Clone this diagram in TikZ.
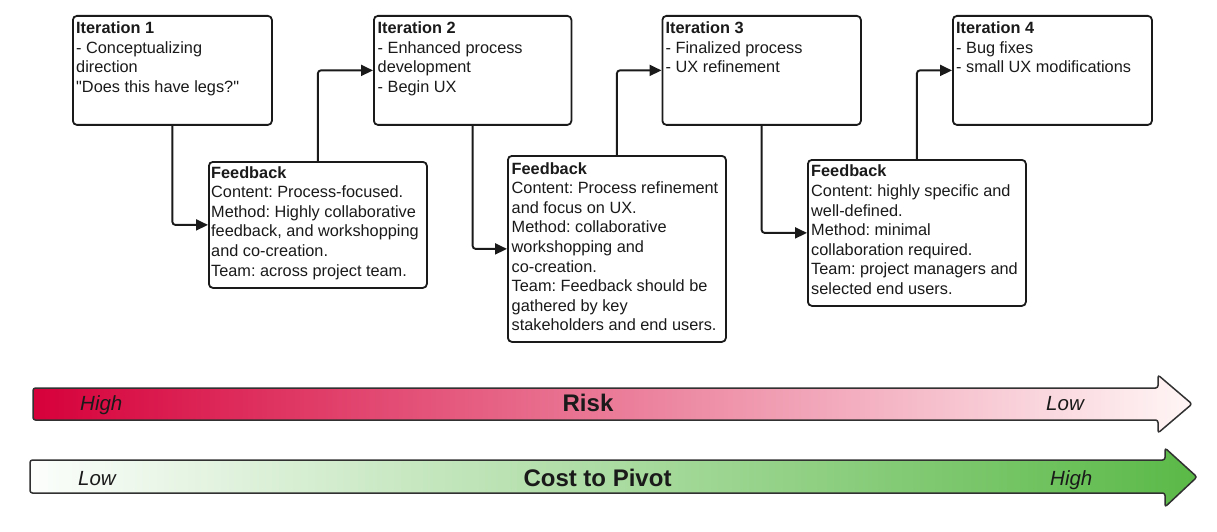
\documentclass[tikz,border=0pt]{standalone}
\usepackage{fontspec}
\setmainfont{Liberation Sans}[Ligatures=TeXOff]
\usetikzlibrary{arrows.meta}
\frenchspacing
\definecolor{ink}{HTML}{1A1A1A}
\definecolor{riskL}{HTML}{D6003A}
\definecolor{riskR}{HTML}{FFF6F6}
\definecolor{costL}{HTML}{FCFEFC}
\definecolor{costR}{HTML}{5AB947}
\tikzset{
  box/.style={draw=ink, line width=1.8pt, rounded corners=4pt, fill=white, anchor=north west, inner sep=0pt},
  itbox/.style={box, minimum width=199pt, minimum height=109pt},
  txt/.style={anchor=north west, inner sep=0pt, align=left, text=ink, font=\fontsize{16.3}{19.6}\selectfont},
  conn/.style={draw=ink, line width=1.9pt, rounded corners=3pt, -{Triangle[length=12pt,width=11pt]}},
  bigarrow/.style={draw=ink!90, line width=1.5pt, rounded corners=2.5pt},
  lab/.style={anchor=base west, inner sep=0pt, text=ink, font=\fontsize{20.5}{24}\selectfont\itshape},
  title/.style={anchor=base, inner sep=0pt, text=ink, font=\fontsize{24}{28}\selectfont\bfseries}
}
\begin{document}
\begin{tikzpicture}[x=1pt,y=-1pt]
\useasboundingbox[fill=white] (0,0) rectangle (1217,532);

% iteration boxes
\node[itbox] (it1) at (72,15) {};
\node[box, minimum width=197.5pt, minimum height=109pt] (it2) at (373,15) {};
\node[box, minimum width=198.5pt, minimum height=109pt] (it3) at (661.5,15) {};
\node[box, minimum width=199pt, minimum height=109pt] (it4) at (952,15) {};

% feedback boxes
\node[box, minimum width=218pt, minimum height=126pt] (fb1) at (208,161) {};
\node[box, minimum width=218pt, minimum height=186pt] (fb2) at (507,155) {};
\node[box, minimum width=218pt, minimum height=146pt] (fb3) at (807,159) {};

% texts
\node[txt] (t1) at (76,21.5) {\textbf{Iteration 1}\\- Conceptualizing\\direction\\"Does this have legs?"};
\node[txt] (t2) at (377.5,21.5) {\textbf{Iteration 2}\\- Enhanced process\\development\\- Begin UX};
\node[txt] (t3) at (665.5,21.5) {\textbf{Iteration 3}\\- Finalized process\\- UX refinement};
\node[txt] (t4) at (956,21.5) {\textbf{Iteration 4}\\- Bug fixes\\- small UX modifications};

\node[txt] (f1) at (211,166) {\textbf{Feedback}\\Content: Process-focused.\\Method: Highly collaborative\\feedback, and workshopping\\and co-creation.\\Team: across project team.};
\node[txt] (f2) at (511.5,162) {\textbf{Feedback}\\Content: Process refinement\\and focus on UX.\\Method: collaborative\\workshopping and\\co-creation.\\Team: Feedback should be\\gathered by key\\stakeholders and end users.};
\node[txt] (f3) at (811,164.8) {\textbf{Feedback}\\Content: highly specific and\\well-defined.\\Method: minimal\\collaboration required.\\Team: project managers and\\selected end users.};

% connectors
\draw[conn] (it1.south) |- (fb1.west);
\draw[conn] (fb1.north) |- (it2.west);
\draw[conn] (it2.south) |- (fb2.west);
\draw[conn] (fb2.north) |- (it3.west);
\draw[conn] (it3.south) |- (fb3.west);
\draw[conn] (fb3.north) |- (it4.west);

% risk arrow
\path[bigarrow, left color=riskL, right color=riskR]
  (33,388) -- (1158,388) -- (1158,375) -- (1192,404) -- (1158,433) -- (1158,420) -- (33,420) -- cycle;
\node[lab] (rh) at (80,410.5) {High};
\node[title] (rt) at (588,411.5) {Risk};
\node[lab] (rl) at (1046,410.5) {Low};

% cost arrow
\path[bigarrow, left color=costL, right color=costR]
  (30,460) -- (1165,460) -- (1165,448) -- (1197,477) -- (1165,507) -- (1165,493) -- (30,493) -- cycle;
\node[lab] (cl) at (78,485.5) {Low};
\node[title] (ct) at (597.5,486) {Cost to Pivot};
\node[lab] (ch) at (1050,485.5) {High};
\end{tikzpicture}
\end{document}
